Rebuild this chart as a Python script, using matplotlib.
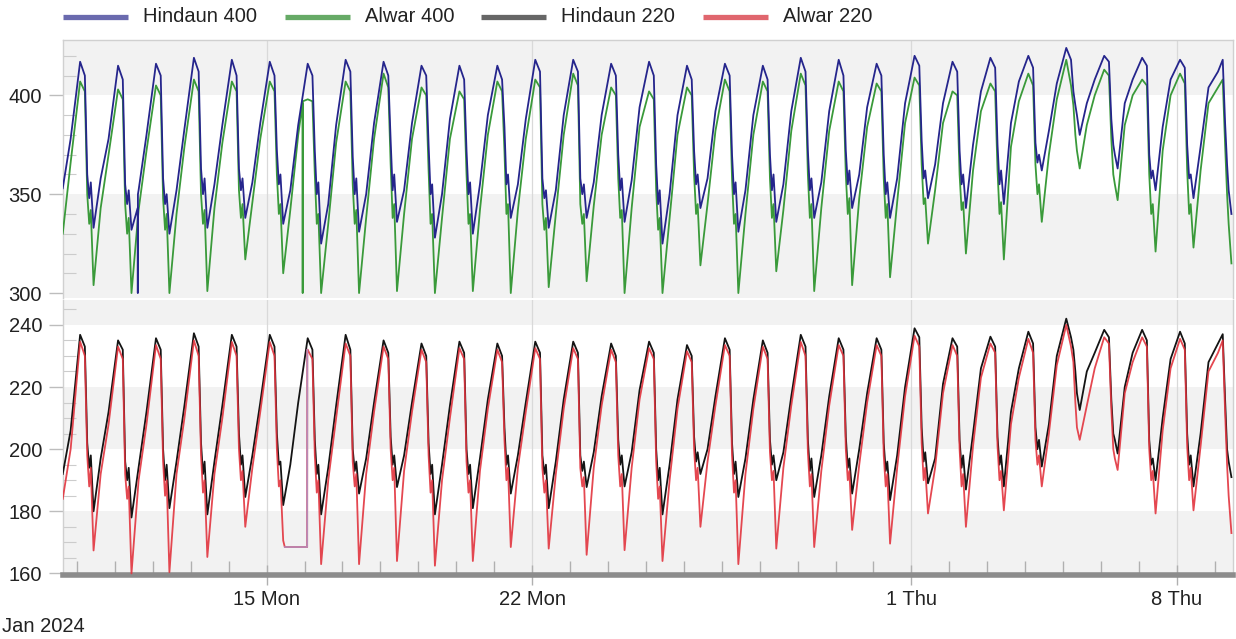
import numpy as np
import pandas as pd
import matplotlib
matplotlib.use("Agg")
import matplotlib.pyplot as plt
import matplotlib.dates as mdates
from matplotlib.lines import Line2D
from matplotlib.ticker import MultipleLocator

plt.rcParams['font.family'] = ['Liberation Sans', 'DejaVu Sans']

# ---------------- data ----------------
series_names = ["Hindaun 400", "Alwar 400", "Hindaun 220", "Alwar 220"]
series_colors = ["#25258c", "#3a9a3a", "#141414", "#e2343e"]
legend_colors = ["#6a6aae", "#66aa66", "#666666", "#e0666e"]

first_day = "2024-01-09"
# hour of day of each daily anchor: peak, pre-drop, after drop, dip, spike, minimum, afternoon, evening
anchor_hours = [2.0, 5.0, 6.5, 7.75, 8.75, 10.5, 15.0, 20.0]
nan = np.nan

hindaun_400 = [
    [nan, nan, nan, nan, nan, nan, 353, 378],
    [417, 410, 360, 348, 356, 333, 358, 378],
    [415, 408, 355, 345, 352, 332, 352, 380],
    [416, 410, 358, 345, 350, 330, 352, 383],
    [419, 412, 363, 350, 358, 333, 355, 385],
    [418, 410, 363, 352, 358, 338, 356, 386],
    [417, 410, 372, 355, 360, 335, 352, 385],
    [416, 410, 372, 350, 356, 325, 345, 385],
    [418, 412, 369, 350, 358, 331, 350, 386],
    [417, 410, 377, 352, 360, 336, 352, 386],
    [415, 410, 375, 350, 355, 328, 350, 388],
    [415, 408, 372, 350, 356, 330, 355, 390],
    [415, 408, 384, 355, 360, 338, 355, 388],
    [418, 412, 358, 348, 352, 333, 352, 390],
    [418, 412, 358, 350, 355, 338, 356, 390],
    [416, 410, 370, 352, 358, 336, 357, 394],
    [417, 410, 365, 345, 352, 325, 350, 390],
    [415, 408, 372, 355, 360, 343, 358, 392],
    [416, 410, 370, 350, 356, 331, 352, 390],
    [415, 408, 370, 352, 360, 336, 355, 392],
    [419, 412, 372, 352, 358, 338, 356, 392],
    [418, 410, 372, 355, 362, 343, 360, 394],
    [416, 410, 370, 350, 356, 338, 358, 396],
    [420, 415, 377, 358, 362, 348, 365, 396],
    [417, 412, 372, 355, 360, 343, 375, 402],
    [419, 414, 375, 355, 362, 345, 386, 407],
    [420, 414, 376, 366, 370, 362, 382, 406],
    [424, 418, 402, 395, 390, 380, 396, 408],
    [420, 417, 388, 375, 370, 363, 396, 408],
    [419, 415, 370, 358, 362, 352, 384, 408],
    [418, 414, 375, 358, 360, 348, 374, 404],
    [412, 418, 386, 365, 352, 340, nan, nan],
]
alwar_400 = [
    [nan, nan, nan, nan, nan, nan, 330, 366],
    [407, 402, 350, 335, 342, 304, 343, 370],
    [403, 398, 345, 330, 338, 300, 342, 372],
    [405, 400, 348, 332, 340, 300, 340, 374],
    [408, 402, 350, 335, 342, 301, 343, 376],
    [407, 402, 352, 338, 345, 317, 346, 378],
    [407, 402, 360, 340, 345, 310, 342, 380],
    [398, 397, 360, 335, 340, 300, 335, 376],
    [407, 402, 355, 335, 342, 300, 338, 378],
    [411, 404, 365, 338, 345, 301, 340, 378],
    [404, 400, 362, 335, 340, 300, 338, 378],
    [402, 398, 360, 335, 340, 301, 342, 380],
    [407, 402, 372, 340, 345, 300, 342, 378],
    [408, 404, 345, 332, 338, 303, 340, 380],
    [411, 405, 345, 335, 340, 306, 344, 380],
    [404, 400, 358, 338, 342, 300, 343, 384],
    [402, 398, 352, 332, 338, 300, 338, 380],
    [404, 400, 360, 340, 345, 314, 345, 382],
    [408, 402, 358, 335, 340, 300, 340, 380],
    [407, 402, 358, 338, 345, 311, 342, 382],
    [411, 405, 360, 338, 345, 301, 343, 382],
    [407, 402, 360, 340, 348, 304, 348, 384],
    [406, 402, 358, 338, 345, 308, 346, 386],
    [409, 405, 365, 345, 348, 325, 352, 386],
    [402, 400, 360, 342, 346, 320, 362, 392],
    [406, 402, 362, 340, 346, 317, 374, 397],
    [411, 405, 365, 350, 355, 336, 370, 398],
    [418, 405, 395, 380, 372, 363, 385, 400],
    [413, 410, 378, 360, 355, 347, 385, 400],
    [408, 405, 360, 340, 345, 321, 372, 400],
    [411, 406, 362, 340, 345, 323, 362, 396],
    [404, 408, 375, 350, 335, 315, nan, nan],
]
hindaun_220 = [
    [nan, nan, nan, nan, nan, nan, 192, 206],
    [236.8, 233, 202, 194, 198, 180, 197, 212],
    [235, 232, 196, 190, 194, 178, 194, 212],
    [235.7, 232, 200, 190, 195, 181, 196, 214],
    [237.3, 233, 202, 192, 196, 179, 196, 214],
    [236.8, 233, 205, 195, 198, 184.6, 198, 215],
    [236.8, 233, 205, 195, 196, 182, 195, 215],
    [235.7, 232, 203, 192, 195, 179, 194, 214],
    [236.8, 232, 200, 193, 196, 185.7, 197, 215],
    [235, 231, 204, 195, 198, 187.8, 198, 215],
    [234, 230, 202, 192, 195, 179, 195, 214],
    [234.6, 231, 200, 192, 195, 181, 197, 216],
    [234, 230, 207, 195, 198, 185.7, 198, 215],
    [234.6, 231, 198, 192, 195, 181, 196, 216],
    [234.6, 231, 198, 193, 196, 187.8, 199, 217],
    [234, 230, 203, 195, 198, 188, 199, 219],
    [234.6, 231, 200, 190, 194, 179, 195, 216],
    [233.5, 230, 204, 196, 199, 192, 200, 217],
    [235.7, 232, 202, 192, 196, 184.6, 197, 216],
    [235, 231, 203, 195, 198, 190, 199, 217],
    [236.8, 233, 203, 193, 197, 184.6, 198, 217],
    [235.7, 232, 204, 194, 197, 185.7, 200, 218],
    [235.7, 232, 202, 193, 196, 183.6, 198, 220],
    [238.9, 236, 207, 196, 199, 189, 197, 221],
    [235.7, 233, 203, 194, 198, 187, 205, 226],
    [236.2, 233, 204, 195, 198, 188, 212, 226],
    [237.8, 234, 207, 200, 203, 194.4, 208, 230],
    [242, 236, 232, 225, 218, 212.6, 225, 231],
    [238.4, 236, 216, 205, 203, 198.6, 220, 231],
    [238.4, 235, 203, 195, 197, 190, 210, 229],
    [237.8, 234, 205, 195, 198, 188, 205, 228],
    [234, 237, 216, 200, 196, 191, nan, nan],
]
alwar_220 = [
    [nan, nan, nan, nan, nan, nan, 184, 200],
    [234.6, 230, 198, 188, 194, 167.4, 192, 208],
    [233, 229, 192, 184, 188, 160, 190, 208],
    [233.5, 229, 196, 185, 190, 160.4, 192, 210],
    [235, 230, 198, 186, 190, 165.3, 192, 210],
    [234.5, 230, 200, 190, 193, 175, 194, 212],
    [234.5, 230, 200, 188, 190, 170.6, nan, nan],
    [232, 229, 198, 186, 190, 163, 190, 210],
    [234, 230, 196, 188, 192, 163, 192, 212],
    [233, 229, 200, 190, 194, 164, 193, 212],
    [232, 228, 198, 186, 190, 162.5, 190, 210],
    [232.5, 229, 196, 186, 190, 164, 193, 213],
    [232, 228, 203, 190, 194, 168.5, 194, 212],
    [232.5, 229, 194, 186, 190, 168, 192, 213],
    [232.5, 229, 194, 188, 191, 166, 194, 214],
    [232, 228, 198, 188, 192, 167.5, 194, 216],
    [232.5, 229, 196, 184, 188, 164, 190, 213],
    [231.5, 228, 200, 190, 194, 175, 196, 214],
    [233.5, 230, 198, 186, 190, 163, 192, 213],
    [233, 229, 199, 190, 193, 168, 194, 214],
    [234.5, 230, 199, 188, 192, 168.5, 193, 214],
    [233.5, 230, 200, 190, 193, 174, 195, 215],
    [233.5, 230, 198, 188, 192, 169.6, 194, 217],
    [236.5, 233, 202, 190, 194, 179.3, 194, 218],
    [233.5, 230, 200, 188, 192, 175, 201, 223],
    [234, 231, 201, 190, 193, 180.3, 208, 223],
    [235.5, 231, 203, 195, 198, 188, 205, 227],
    [240, 233, 228, 215, 207, 203, 214, 226],
    [236, 234, 213, 200, 197, 193.3, 218, 228],
    [236, 233, 200, 190, 193, 179.3, 206, 226],
    [235.5, 232, 201, 190, 194, 180.3, 201, 225],
    [231, 235, 212, 195, 185, 173, nan, nan],
]

# short events
hindaun_400_spike_t = ["2024-01-11 14:25", "2024-01-11 14:30", "2024-01-11 14:35"]
hindaun_400_spike_v = [343, 300, 350]
alwar_400_spike_t = ["2024-01-15 22:45", "2024-01-15 22:50", "2024-01-15 22:55"]
alwar_400_spike_v = [396, 300, 397]
alwar_220_gap_t = ["2024-01-15 11:30", "2024-01-16 01:40", "2024-01-16 01:45"]
alwar_220_gap_v = [168.5, 168.5, 232]

tick_dates = ["2024-01-15", "2024-01-22", "2024-02-01", "2024-02-08"]
tick_labels = ["15 Mon", "22 Mon", "1 Thu", "8 Thu"]
x_start, x_end = "2024-01-09 15:10", "2024-02-09 11:30"
top_yticks = [300, 350, 400]
bottom_yticks = [160, 180, 200, 220, 240]


def build(rows, extra_t=(), extra_v=()):
    t0 = pd.Timestamp(first_day)
    ts, vs = [], []
    for i, row in enumerate(rows):
        for h, v in zip(anchor_hours, row):
            if not np.isnan(v):
                ts.append(t0 + pd.Timedelta(days=i) + pd.Timedelta(hours=h))
                vs.append(v)
    ts += list(pd.to_datetime(list(extra_t)))
    vs += list(extra_v)
    return pd.Series(vs, index=pd.DatetimeIndex(ts)).sort_index()


s_h4 = build(hindaun_400, hindaun_400_spike_t, hindaun_400_spike_v)
s_a4 = build(alwar_400, alwar_400_spike_t, alwar_400_spike_v)
s_h2 = build(hindaun_220)
s_a2 = build(alwar_220, alwar_220_gap_t, alwar_220_gap_v)

# ---------------- figure ----------------
W, H = 1236, 639
fig = plt.figure(figsize=(W / 100, H / 100), dpi=100)
fig.patch.set_facecolor("white")

L, R = 63, 1233
ax1 = fig.add_axes([L / W, 1 - 298 / H, (R - L) / W, (298 - 40) / H])
ax2 = fig.add_axes([L / W, 1 - 575 / H, (R - L) / W, (575 - 300) / H], sharex=ax1)

band = "#f2f2f2"
ax1.set_ylim(297.5, 428)
ax1.axhspan(290, 350, color=band, lw=0, zorder=0)
ax1.axhspan(400, 440, color=band, lw=0, zorder=0)
ax2.set_ylim(159.5, 248)
ax2.axhspan(150, 180, color=band, lw=0, zorder=0)
ax2.axhspan(200, 220, color=band, lw=0, zorder=0)
ax2.axhspan(240, 260, color=band, lw=0, zorder=0)

lw = 1.3
ax1.plot(s_a4.index, s_a4.values, color=series_colors[1], lw=lw, zorder=3)
ax1.plot(s_h4.index, s_h4.values, color=series_colors[0], lw=lw, zorder=4)
ax2.plot(s_h2.index, s_h2.values, color=series_colors[2], lw=lw, zorder=3)
ax2.plot(s_a2.index, s_a2.values, color=series_colors[3], lw=lw, alpha=0.9, zorder=4)
gap = pd.Series(alwar_220_gap_v, index=pd.to_datetime(alwar_220_gap_t))
ax2.plot(gap.index, gap.values, color="#b88ab8", lw=1.2, zorder=5)

ax1.set_xlim(pd.Timestamp(x_start), pd.Timestamp(x_end))

for ax, yt, minor in ((ax1, top_yticks, 10), (ax2, bottom_yticks, 5)):
    ax.set_facecolor("white")
    ax.set_yticks(yt)
    ax.yaxis.set_minor_locator(MultipleLocator(minor))
    ax.tick_params(axis="y", which="major", direction="out", length=10, width=1,
                   color="#bdbdbd", pad=5, labelsize=14.5, labelcolor="#222222")
    ax.tick_params(axis="y", which="minor", direction="in", length=9, width=0.8,
                   color="#cccccc")
    ax.set_xticks(pd.to_datetime(tick_dates))
    ax.xaxis.set_minor_locator(mdates.DayLocator())
    ax.grid(axis="x", which="major", color="#d9d9d9", lw=0.9, zorder=1)
    for side in ("left", "right", "top", "bottom"):
        ax.spines[side].set_color("#d0d0d0")
        ax.spines[side].set_linewidth(1)

ax1.tick_params(axis="x", which="both", length=0, labelbottom=False)
ax1.spines["bottom"].set_visible(False)
ax2.spines["top"].set_visible(False)
ax2.spines["bottom"].set_color("#8c8c8c")
ax2.spines["bottom"].set_linewidth(4)
ax2.set_xticklabels(tick_labels)
ax2.tick_params(axis="x", which="major", direction="inout", length=14, width=1,
                color="#b0b0b0", pad=4, labelsize=14.5, labelcolor="#222222")
ax2.tick_params(axis="x", which="minor", direction="in", length=10, width=1,
                color="#b0b0b0")

fig.text(2 / W, 1 - 627 / H, "Jan 2024", fontsize=14.5, color="#222222",
         ha="left", va="center")

# legend
leg_y = 1 - 17 / H
leg_items = [(63, 128, 143), (285, 350, 365), (481, 546, 561), (703, 768, 783)]
for (x0, x1, xt), name, col in zip(leg_items, series_names, legend_colors):
    fig.add_artist(Line2D([x0 / W, x1 / W], [leg_y, leg_y], transform=fig.transFigure,
                          color=col, lw=3.8, solid_capstyle="butt"))
    fig.text(xt / W, leg_y, name, fontsize=14.5, color="#222222", ha="left", va="center")

fig.savefig("out.png", dpi=100)
